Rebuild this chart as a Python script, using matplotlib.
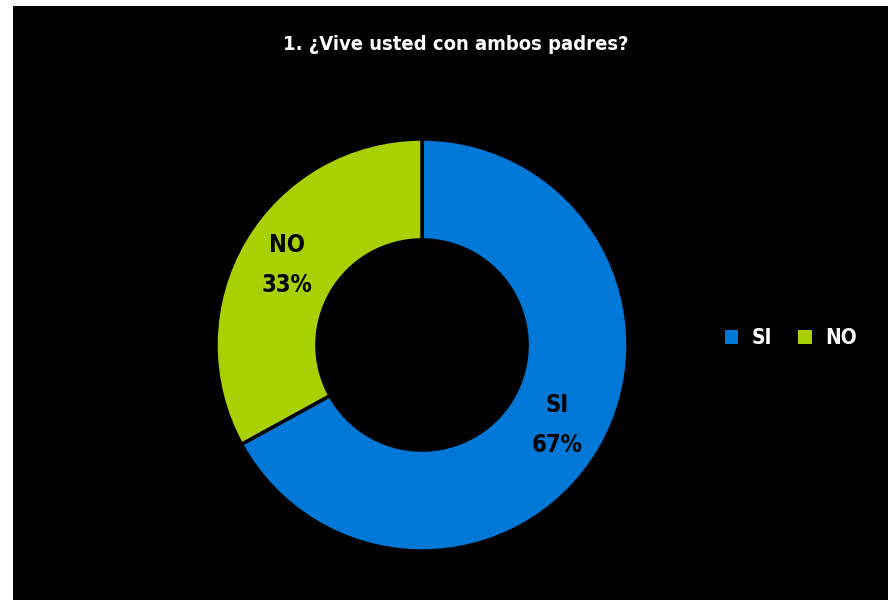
import matplotlib
matplotlib.use("Agg")
import matplotlib.pyplot as plt
from matplotlib.patches import Rectangle, Patch

title = "1. ¿Vive usted con ambos padres?"
categories = ["SI", "NO"]
values = [67, 33]
colors = ["#0078D7", "#A9D000"]

W, H = 888, 600
fig = plt.figure(figsize=(W / 100, H / 100), dpi=100, facecolor="white")

# black chart area with a thin white margin on the top and left
fig.patches.append(Rectangle((13 / W, 0), 1 - 13 / W, 1 - 6 / H,
                             transform=fig.transFigure, facecolor="black",
                             edgecolor="none", zorder=-10))

font = dict(family="DejaVu Sans", fontstretch="condensed", fontweight="bold")

# donut
cx, cy, r = 422, 345, 206
ax = fig.add_axes([(cx - r) / W, (H - cy - r) / H, 2 * r / W, 2 * r / H])
ax.set_facecolor("none")
ax.set_zorder(5)
wedges, texts, autotexts = ax.pie(
    values, colors=colors, startangle=90, counterclock=False,
    radius=1.0, pctdistance=0.76,
    autopct=lambda p: "",
    wedgeprops=dict(width=0.49, edgecolor="black", linewidth=2.5),
)
total = sum(values)
for t, cat, v in zip(autotexts, categories, values):
    t.set_text(f"{cat}\n{round(100 * v / total)}%")
    t.set_color("black")
    t.set_fontsize(17)
    t.set_linespacing(1.85)
    t.set(**font)
ax.set_xlim(-1, 1)
ax.set_ylim(-1, 1)
ax.set_aspect("equal")
ax.axis("off")

fig.text(456 / W, 1 - 45 / H, title, color="white", fontsize=14.5,
         ha="center", va="center", **font)

handles = [Patch(facecolor=c, edgecolor="none") for c in colors]
leg = fig.legend(handles, categories, loc="center left",
                 bbox_to_anchor=(706 / W, 1 - 338 / H), ncol=2, frameon=False,
                 handlelength=0.65, handleheight=0.65, handletextpad=0.65,
                 columnspacing=1.25,
                 prop=dict(family="DejaVu Sans", stretch="condensed",
                           weight="bold", size=15))
for t in leg.get_texts():
    t.set_color("white")

fig.savefig("out.png", dpi=100, facecolor="white")
